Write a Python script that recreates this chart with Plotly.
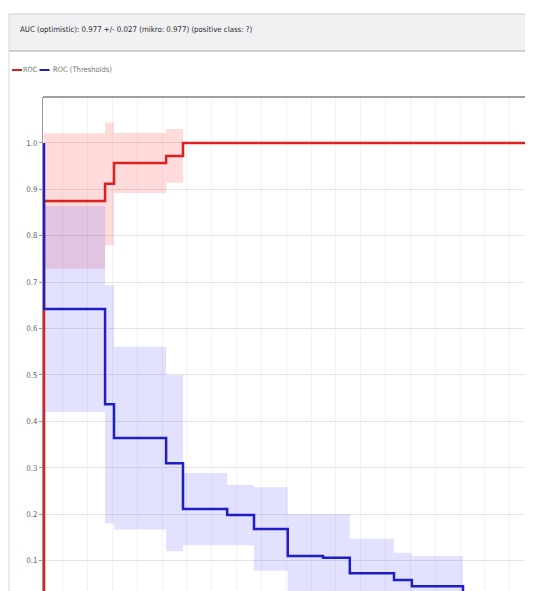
import plotly.graph_objects as go

# ---------------- data ----------------
title_text = "AUC (optimistic): 0.977 +/- 0.027 (mikro: 0.977) (positive class: ?)"
series_names = ["ROC", "ROC (Thresholds)"]

x_end = 0.985  # right end of visible x range

# ROC (mean curve with +/- deviation band), step segments
roc_seg_start = [0.0, 0.123, 0.141, 0.246, 0.280]
roc_mean = [0.875, 0.912, 0.957, 0.972, 1.0]
roc_std = [0.146, 0.132, 0.065, 0.058, 0.0]

# ROC (Thresholds), step segments
thr_seg_start = [0.0, 0.123, 0.141, 0.246, 0.280, 0.369, 0.423, 0.491, 0.562, 0.616, 0.705, 0.741, 0.844]
thr_mean = [0.642, 0.437, 0.364, 0.310, 0.211, 0.198, 0.168, 0.110, 0.106, 0.073, 0.058, 0.045, 0.0]
thr_std = [0.222, 0.257, 0.197, 0.190, 0.078, 0.065, 0.090, 0.090, 0.094, 0.074, 0.059, 0.065, 0.0]

y_ticks = [0.1, 0.2, 0.3, 0.4, 0.5, 0.6, 0.7, 0.8, 0.9, 1.0]

# ---------------- helpers ----------------
# page body has an 8px margin, so the figure is placed at (8, 8) on the page
OFF = 8
PAGE_W, PAGE_H = 533, 591
W, H = PAGE_W - OFF, PAGE_H - OFF
PLOT_L, PLOT_T = 43, 97          # page pixel position of the plot area
ML, MT = PLOT_L - OFF, PLOT_T - OFF


def px_x(px):
    return (px - PLOT_L) / (PAGE_W - PLOT_L)


def px_y(py):
    return (PAGE_H - py) / (PAGE_H - PLOT_T)


def step_xy(starts, vals, end):
    xs = list(starts) + [end]
    ys = list(vals) + [vals[-1]]
    return xs, ys


RED = "#dd1f1f"
BLUE = "#1e1ec4"
FONT = "DejaVu Sans Condensed, Liberation Sans Narrow, sans-serif"

fig = go.Figure()

# ROC band
rx, rlo = step_xy(roc_seg_start, [m - s for m, s in zip(roc_mean, roc_std)], roc_seg_start[-1])
_, rhi = step_xy(roc_seg_start, [m + s for m, s in zip(roc_mean, roc_std)], roc_seg_start[-1])
fig.add_trace(go.Scatter(x=rx, y=rlo, mode="lines", line=dict(width=0, shape="hv"),
                         hoverinfo="skip", showlegend=False))
fig.add_trace(go.Scatter(x=rx, y=rhi, mode="lines", line=dict(width=0, shape="hv"),
                         fill="tonexty", fillcolor="rgba(255,40,40,0.17)",
                         hoverinfo="skip", showlegend=False))

# Threshold band
tx, tlo = step_xy(thr_seg_start[:-1], [max(0, m - s) for m, s in zip(thr_mean[:-1], thr_std[:-1])], thr_seg_start[-1])
_, thi = step_xy(thr_seg_start[:-1], [m + s for m, s in zip(thr_mean[:-1], thr_std[:-1])], thr_seg_start[-1])
fig.add_trace(go.Scatter(x=tx, y=tlo, mode="lines", line=dict(width=0, shape="hv"),
                         hoverinfo="skip", showlegend=False))
fig.add_trace(go.Scatter(x=tx, y=thi, mode="lines", line=dict(width=0, shape="hv"),
                         fill="tonexty", fillcolor="rgba(60,60,255,0.15)",
                         hoverinfo="skip", showlegend=False))

# ROC line (starts at (0, 0))
rxl, ryl = step_xy(roc_seg_start, roc_mean, x_end)
fig.add_trace(go.Scatter(x=[0.0] + rxl, y=[0.0] + ryl, mode="lines", name=series_names[0],
                         line=dict(color=RED, width=2.5, shape="hv"), showlegend=False))

# Threshold line (starts at (0, 1))
txl, tyl = step_xy(thr_seg_start, thr_mean, x_end)
fig.add_trace(go.Scatter(x=[0.0] + txl, y=[1.0] + tyl, mode="lines", name=series_names[1],
                         line=dict(color=BLUE, width=2.5, shape="hv"), showlegend=False))

shapes = [
    # outer panel left border
    dict(type="line", xref="paper", yref="paper", x0=px_x(9), x1=px_x(9), y0=px_y(PAGE_H), y1=px_y(14),
         line=dict(color="#d8d8d8", width=1)),
    # title box
    dict(type="rect", xref="paper", yref="paper", x0=px_x(9), x1=1.0, y0=px_y(51), y1=px_y(14),
         fillcolor="#f1f1f4", line=dict(width=0), layer="below"),
    dict(type="line", xref="paper", yref="paper", x0=px_x(9), x1=1.0, y0=px_y(14), y1=px_y(14),
         line=dict(color="#cfcfcf", width=1)),
    dict(type="line", xref="paper", yref="paper", x0=px_x(9), x1=1.0, y0=px_y(51), y1=px_y(51),
         line=dict(color="#a8a8a8", width=1.2)),
    # plot top frame
    dict(type="line", xref="paper", yref="paper", x0=0, x1=1.0, y0=1.0, y1=1.0,
         line=dict(color="#808080", width=1.5)),
    # legend segments
    dict(type="line", xref="paper", yref="paper", x0=px_x(12), x1=px_x(22), y0=px_y(70), y1=px_y(70),
         line=dict(color=RED, width=2)),
    dict(type="line", xref="paper", yref="paper", x0=px_x(39.5), x1=px_x(49.5), y0=px_y(70), y1=px_y(70),
         line=dict(color=BLUE, width=2)),
]

annotations = [
    dict(text=title_text, xref="paper", yref="paper", x=px_x(18), y=px_y(29), xanchor="left",
         yanchor="middle", showarrow=False, font=dict(family=FONT, size=7.8, color="#2a2a2a")),
    dict(text=series_names[0], xref="paper", yref="paper", x=px_x(21), y=px_y(70), xanchor="left",
         yanchor="middle", showarrow=False, font=dict(family=FONT, size=7.3, color="#777777")),
    dict(text=series_names[1], xref="paper", yref="paper", x=px_x(50.5), y=px_y(70), xanchor="left",
         yanchor="middle", showarrow=False, font=dict(family=FONT, size=7.5, color="#777777")),
]

fig.update_layout(
    width=W, height=H,
    margin=dict(l=ML, r=0, t=MT, b=0, pad=0),
    paper_bgcolor="white", plot_bgcolor="white",
    shapes=shapes, annotations=annotations,
    showlegend=False,
    xaxis=dict(range=[-0.002, x_end], showticklabels=False, ticks="",
               tick0=0.038, dtick=0.05, showgrid=True, gridcolor="#f2f2f2", gridwidth=1,
               zeroline=False, showline=False),
    yaxis=dict(range=[0.0345, 1.099], tickvals=y_ticks, ticktext=[f"{v:.1f}" for v in y_ticks],
               ticks="outside", ticklen=3, tickcolor="#999999",
               tickfont=dict(family=FONT, size=7.8, color="#666666"),
               showgrid=True, gridcolor="#e4e4e4", gridwidth=1,
               zeroline=False, showline=True, linecolor="#999999", linewidth=1),
)

fig.write_html("out.html")
